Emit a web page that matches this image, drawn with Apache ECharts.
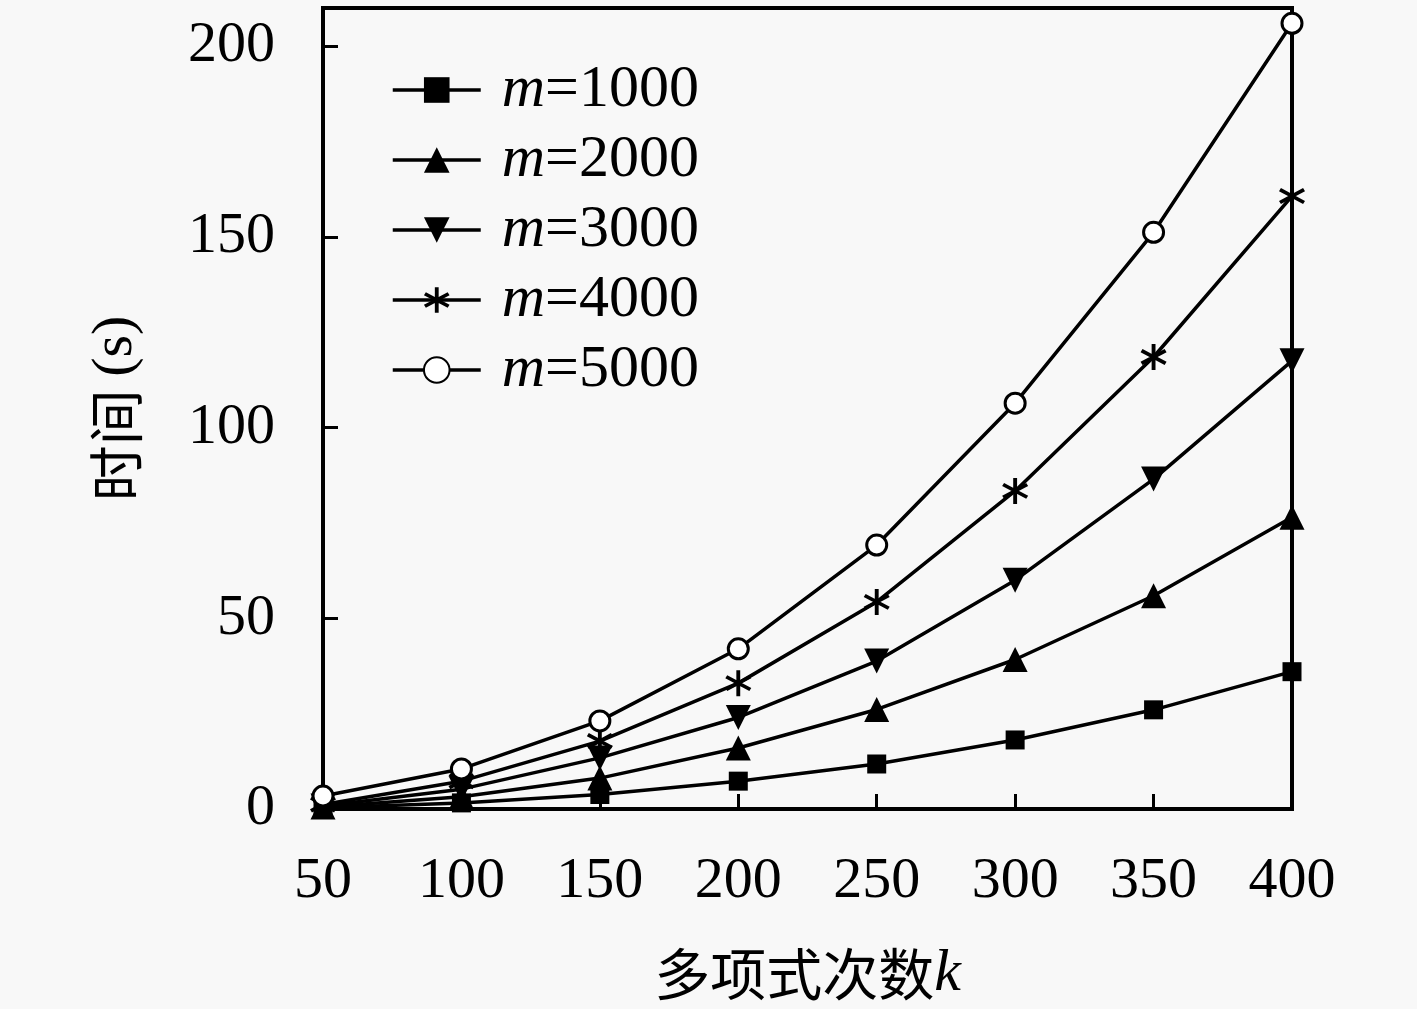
<!DOCTYPE html>
<html>
<head>
<meta charset="utf-8">
<script src="https://cdn.jsdelivr.net/npm/echarts@6/dist/echarts.min.js"></script>
<style>
html, body { margin: 0; padding: 0; background: #f8f8f8; }
#main { width: 1417px; height: 1009px; }
</style>
</head>
<body>
<div id="main"></div>
<script>
var kValues = [50, 100, 150, 200, 250, 300, 350, 400];
var m1000 = [0.3, 1.6, 3.8, 7.3, 11.8, 18.1, 26, 36];
var m2000 = [0.5, 3.2, 8.1, 16, 26.1, 39.2, 55.9, 76.5];
var m3000 = [0.8, 5.2, 13.4, 24, 38.8, 60, 86.5, 117.5];
var m4000 = [1.2, 7.3, 17.8, 33, 54.3, 83.4, 118.5, 160.7];
var m5000 = [3.4, 10.5, 23.1, 42, 69.2, 106.4, 151.2, 206];
var seriesNames = ['m=1000', 'm=2000', 'm=3000', 'm=4000', 'm=5000'];

var serif = '"Liberation Serif", "Noto Sans CJK SC", serif';
var cjk = '"Noto Sans CJK SC", sans-serif';

// asterisk made of three bars
var starPath = 'path://M43 0L57 0L57 100L43 100Z' +
	'M90 19.3L97 31.4L10 80.7L3 68.6Z' +
	'M3 31.4L10 19.3L97 68.6L90 80.7Z';

function pairUp(vals){
	var out = [];
	for (var i = 0; i < kValues.length; i++) {
		out.push([kValues[i], vals[i]]);
	}
	return out;
}

function makeSeries(name, vals, symbol, size, hollow){
	return {
		name: name,
		type: 'line',
		data: pairUp(vals),
		symbol: symbol,
		symbolSize: size,
		showAllSymbol: true,
		lineStyle: { color: '#000', width: 3.5 },
		itemStyle: hollow ? { color: '#fff', borderColor: '#000', borderWidth: 3 }
			: { color: '#000', borderWidth: 0 },
		z: 3
	};
}

var chart = echarts.init(document.getElementById('main'));
chart.setOption({
	backgroundColor: '#f8f8f8',
	animation: false,
	grid: {
		left: 323, right: 125, top: 8, bottom: 193,
		show: true, borderColor: '#000', borderWidth: 4,
		backgroundColor: 'transparent'
	},
	legend: {
		left: 386, top: 55,
		orient: 'vertical',
		itemWidth: 88, itemHeight: 32,
		itemGap: 10,
		data: seriesNames,
		lineStyle: { width: 3.5 },
		formatter: function(name){
			return '{i|m}{n|' + name.slice(1) + '}';
		},
		textStyle: {
			lineHeight: 57,
			padding: [0, 0, 0, 16],
			rich: {
				i: { fontFamily: serif, fontStyle: 'italic', fontSize: 60, lineHeight: 57, color: '#000' },
				n: { fontFamily: serif, fontSize: 60, lineHeight: 57, color: '#000' }
			}
		}
	},
	xAxis: {
		type: 'value',
		min: 50, max: 400, interval: 50,
		name: '多项式次数{k|k}',
		nameLocation: 'middle',
		nameGap: 135,
		nameTextStyle: {
			fontFamily: cjk, fontSize: 56, color: '#000',
			rich: {
				k: { fontFamily: serif, fontStyle: 'italic', fontSize: 60, color: '#000' }
			}
		},
		axisLine: { lineStyle: { color: '#000', width: 4 } },
		axisTick: { inside: true, length: 15, lineStyle: { color: '#000', width: 3 } },
		axisLabel: { margin: 44, fontFamily: serif, fontSize: 58, color: '#000' },
		splitLine: { show: false }
	},
	yAxis: {
		type: 'value',
		min: 0, max: 210, interval: 50,
		name: '时间 {s|(s)}',
		nameLocation: 'middle',
		nameGap: 178,
		nameRotate: 90,
		nameTextStyle: {
			fontFamily: cjk, fontSize: 56, color: '#000',
			rich: {
				s: { fontFamily: serif, fontSize: 58, color: '#000' }
			}
		},
		axisLine: { lineStyle: { color: '#000', width: 4 } },
		axisTick: { inside: true, length: 15, lineStyle: { color: '#000', width: 3 } },
		axisLabel: {
			margin: 48, fontFamily: serif, fontSize: 58, color: '#000',
			showMaxLabel: false,
			formatter: function(v){ return v % 50 === 0 ? String(v) : ''; }
		},
		splitLine: { show: false }
	},
	series: [
		makeSeries(seriesNames[0], m1000, 'rect', 19, false),
		makeSeries(seriesNames[1], m2000, 'triangle', 25, false),
		makeSeries(seriesNames[2], m3000, 'path://M0 0L100 0L50 90Z', 25, false),
		makeSeries(seriesNames[3], m4000, starPath, 26, false),
		makeSeries(seriesNames[4], m5000, 'circle', 20, true)
	]
});
</script>
</body>
</html>
